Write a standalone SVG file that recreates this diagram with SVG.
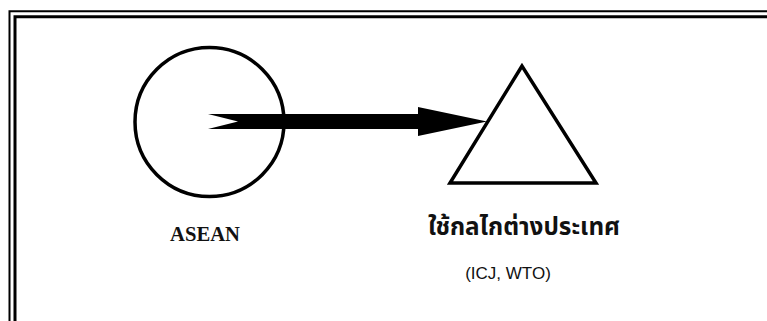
<svg xmlns="http://www.w3.org/2000/svg" width="767" height="321" viewBox="0 0 767 321">
<style>
.shape{fill:none;stroke:#000;stroke-width:3.5}
.frame{fill:none;stroke:#000}
.lbl{font-family:"Liberation Serif","Times New Roman",serif;font-weight:bold;font-size:21px;fill:#111}
.thai{font-family:"Noto Sans Thai","Noto Sans","DejaVu Sans",sans-serif;font-weight:bold;font-size:25px;fill:#111}
.sub{font-family:"Liberation Sans",Arial,sans-serif;font-size:17px;fill:#111}
</style>
<rect width="767" height="321" fill="#fff"/>
<g id="frame">
<path class="frame" stroke-width="2" d="M9.5,330 V11.2 H780"/>
<path class="frame" stroke-width="3" d="M15,330 V16.7 H780"/>
</g>
<g id="asean">
<circle class="shape" cx="209.5" cy="122" r="74.5" stroke-width="3"/>
<text class="lbl" x="205" y="241" text-anchor="middle" textLength="70" lengthAdjust="spacingAndGlyphs">ASEAN</text>
</g>
<g id="foreign">
<polygon class="shape" points="522,66 450,183 596,183" stroke-linejoin="miter"/>
<text class="thai" x="524" y="235" text-anchor="middle" textLength="192" lengthAdjust="spacingAndGlyphs">ใช้กลไกต่างประเทศ</text>
<text class="sub" x="508" y="279" text-anchor="middle">(ICJ, WTO)</text>
</g>
<g id="connectors">
<polygon fill="#000" points="208,114 418,114 418,107 487,121.5 418,136 418,129 208,129 238,121.5"/>
</g>
</svg>
